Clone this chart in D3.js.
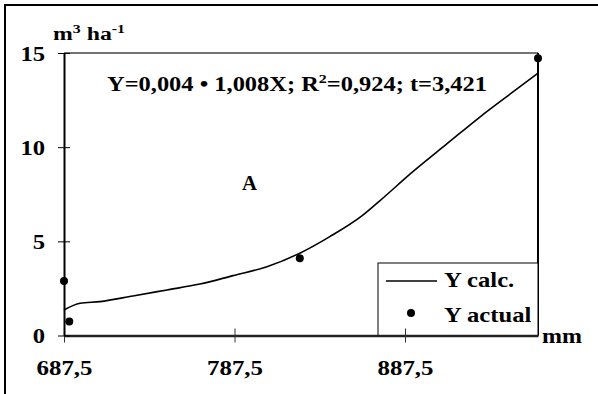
<!DOCTYPE html>
<html>
<head>
<meta charset="utf-8">
<script src="https://cdn.jsdelivr.net/npm/d3@7"></script>
<style>
    body { margin: 0; background: #fff; }
</style>
</head>
<body>
<div id="container"></div>
<script>
const xTicks = [687.5, 787.5, 887.5];
const yTicks = [0, 5, 10, 15];
const calcX = [687.5, 696.9, 708.6, 727.9, 747.9, 767.2, 786.6, 806.5, 825.8, 843.4, 862.2, 872.7, 892.1, 912.0, 931.4, 950.8, 965.5];
const calcY = [1.35, 1.71, 1.80, 2.10, 2.42, 2.73, 3.18, 3.65, 4.37, 5.25, 6.35, 7.15, 8.70, 10.17, 11.60, 12.93, 13.93];
const actualX = [687.5, 690.6, 825.8, 965.5];
const actualY = [2.9, 0.75, 4.1, 14.72];
const legendLabels = ["Y calc.", "Y actual"];

const w = 598, h = 394;
const plotLeft = 64, plotRight = 538, plotTop = 53, plotBottom = 335.5;
const serif = "Liberation Serif, Times New Roman, serif";
const stretch = 1.12;
const fmt = (d) => String(d).replace(".", ",");

const xScale = d3.scaleLinear().domain([687.5, 965.5]).range([plotLeft, plotRight]);
const yScale = d3.scaleLinear().domain([0, 15]).range([plotBottom, plotTop]);

let svg = d3.select("#container")
    .append("svg")
    .attr("width", w)
    .attr("height", h)
    .attr("font-family", serif)
    .attr("font-weight", "bold");

// widen a text a little, like the (stretched) reference
function widen(sel, len) {
    sel.each(function() {
        const n = this.getComputedTextLength();
        d3.select(this).attr("textLength", len || n * stretch).attr("lengthAdjust", "spacingAndGlyphs");
    });
}

// outer frame (cut off at right / bottom)
svg.append("path")
    .attr("d", "M5," + h + "V5H" + w)
    .attr("fill", "none")
    .attr("stroke", "#000")
    .attr("stroke-width", 2);

// plot frame top / right
svg.append("line")
    .attr("x1", plotLeft).attr("x2", plotRight).attr("y1", plotTop).attr("y2", plotTop)
    .attr("stroke", "#444").attr("stroke-width", 1.5);
svg.append("line")
    .attr("x1", plotRight).attr("x2", plotRight).attr("y1", plotTop).attr("y2", plotBottom)
    .attr("stroke", "#000").attr("stroke-width", 2);

// legend box
svg.append("rect")
    .attr("x", 378).attr("y", 263)
    .attr("width", plotRight - 378).attr("height", plotBottom - 263)
    .attr("fill", "#fff").attr("stroke", "#000").attr("stroke-width", 1);

const xAxis = d3.axisBottom(xScale).tickValues(xTicks).tickFormat(fmt).tickSize(0);
const yAxis = d3.axisLeft(yScale).tickValues(yTicks).tickFormat(fmt).tickSize(0).tickPadding(19);

let gx = svg.append("g")
    .attr("id", "x-axis")
    .attr("transform", "translate(0," + plotBottom + ")")
    .call(xAxis)
    .attr("font-family", serif).attr("font-size", 22);
gx.select(".domain").attr("stroke", "#222").attr("stroke-width", 2.5);
gx.selectAll(".tick line").remove();
gx.selectAll(".tick").append("line").attr("y1", -7).attr("y2", 7).attr("stroke", "#333");
gx.selectAll(".tick text").attr("y", 39.5).attr("dy", null).call(widen, 56);

let gy = svg.append("g")
    .attr("id", "y-axis")
    .attr("transform", "translate(" + plotLeft + ",0)")
    .call(yAxis)
    .attr("font-family", serif).attr("font-size", 22);
gy.select(".domain").attr("stroke", "#000").attr("stroke-width", 2);
gy.selectAll(".tick line").remove();
gy.selectAll(".tick").append("line").attr("x1", -6).attr("x2", 6).attr("stroke", "#000");
gy.selectAll(".tick text").attr("dy", "0.34em").call(widen);

// calculated curve
const calc = calcX.map((x, i) => [x, calcY[i]]);
svg.append("path")
    .datum(calc)
    .attr("fill", "none")
    .attr("stroke", "#000")
    .attr("stroke-width", 1.6)
    .attr("d", d3.line().x((d) => xScale(d[0])).y((d) => yScale(d[1])).curve(d3.curveMonotoneX));

// actual points
svg.selectAll("circle.actual")
    .data(actualX.map((x, i) => [x, actualY[i]]))
    .enter()
    .append("circle")
    .attr("class", "actual")
    .attr("cx", (d) => xScale(d[0]))
    .attr("cy", (d) => yScale(d[1]))
    .attr("r", 4)
    .attr("fill", "#000");

// legend items
svg.append("line")
    .attr("x1", 386).attr("x2", 437).attr("y1", 281).attr("y2", 281)
    .attr("stroke", "#000").attr("stroke-width", 1.6);
svg.append("circle")
    .attr("cx", 411).attr("cy", 313).attr("r", 4).attr("fill", "#000");
svg.selectAll("text.legend")
    .data(legendLabels)
    .enter()
    .append("text")
    .attr("class", "legend")
    .attr("x", 444)
    .attr("y", (d, i) => 287 + i * 35)
    .attr("font-size", 22)
    .text((d) => d)
    .call(widen);

// units
let unitY = svg.append("text").attr("x", 53).attr("y", 40).attr("font-size", 18);
unitY.append("tspan").text("m");
unitY.append("tspan").attr("dy", -7).attr("font-size", 12).text("3");
unitY.append("tspan").attr("dy", 7).text(" ha");
unitY.append("tspan").attr("dy", -7).attr("font-size", 12).text("-1");
unitY.call(widen, 72);

svg.append("text").attr("x", 542).attr("y", 343).attr("font-size", 21).text("mm").call(widen, 40);

// equation
let eq = svg.append("text").attr("x", 107).attr("y", 90.5).attr("font-size", 20);
eq.append("tspan").text("Y=0,004 \u2022 1,008X; R");
eq.append("tspan").attr("dy", -8).attr("font-size", 13).text("2");
eq.append("tspan").attr("dy", 8).text("=0,924; t=3,421");
eq.call(widen, 380);

svg.append("text").attr("x", 242).attr("y", 190).attr("font-size", 20).text("A").call(widen, 15);
</script>
</body>
</html>
